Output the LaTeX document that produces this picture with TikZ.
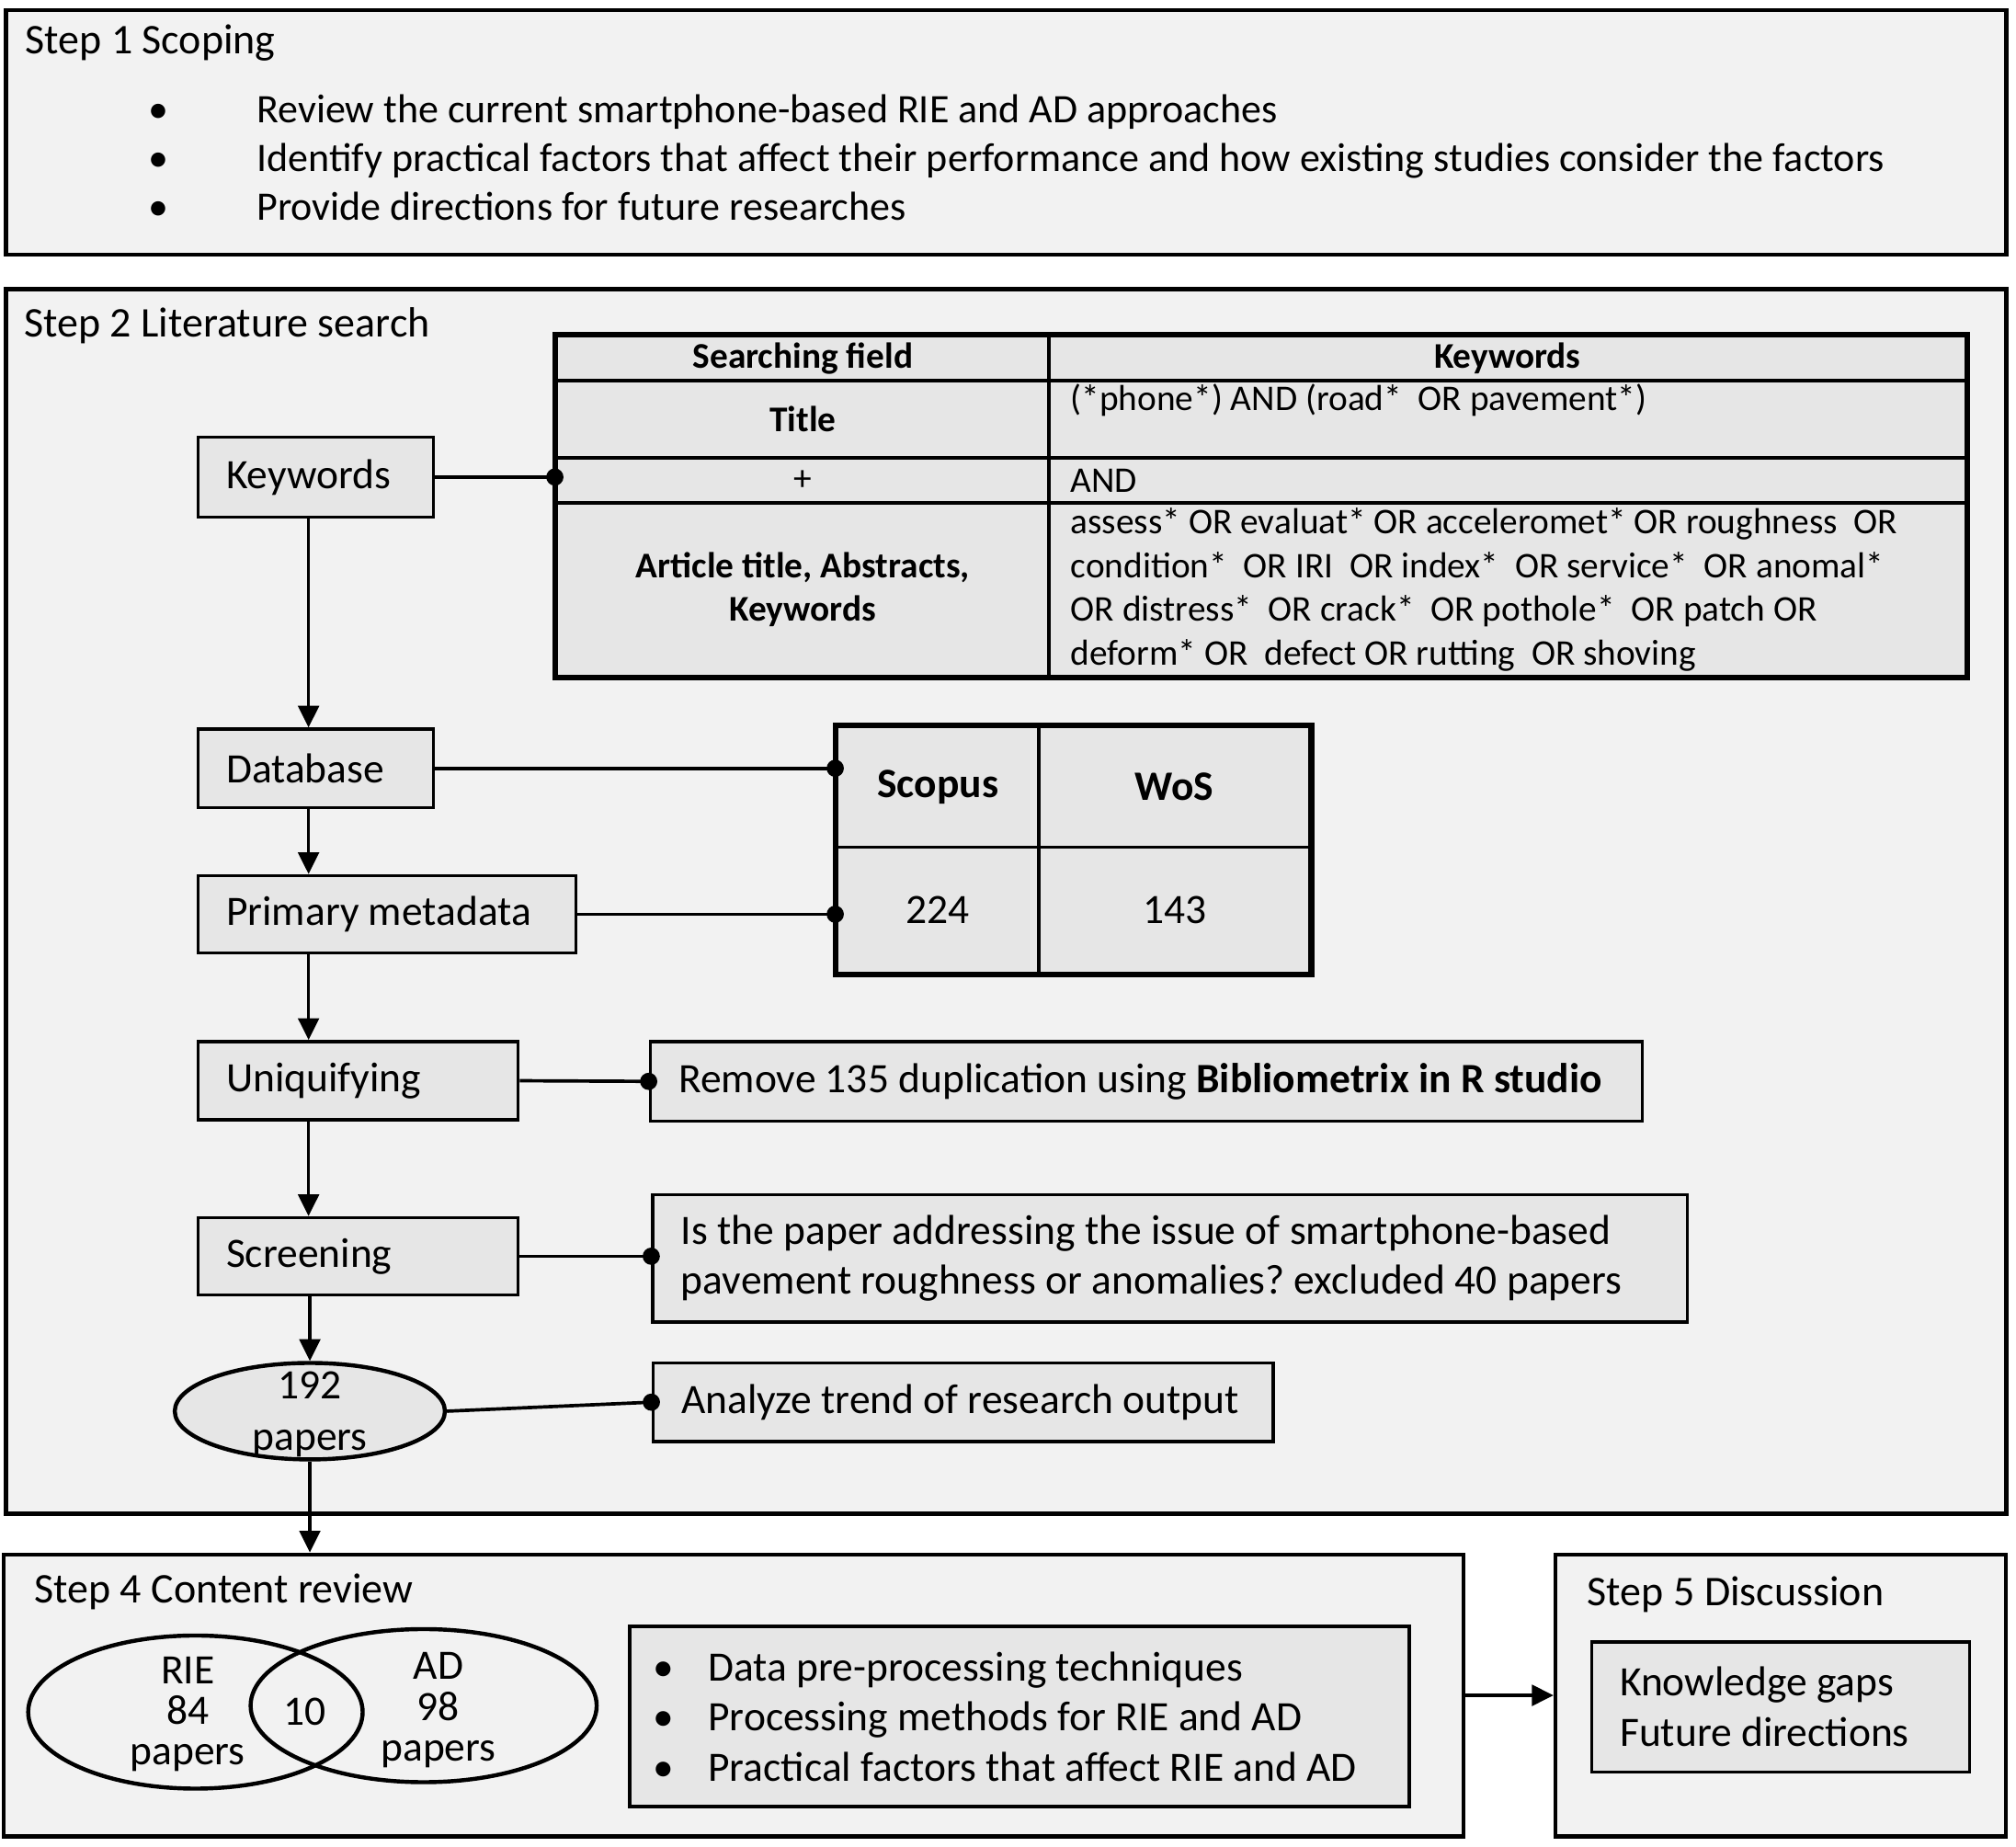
\documentclass[tikz,border=0pt]{standalone}
\usepackage{fontspec}
\setmainfont{Carlito}
\usepackage{tikz}
\usetikzlibrary{shapes.geometric, arrows, arrows.meta, positioning}
\definecolor{PanelGray}{RGB}{242, 242, 242}
\definecolor{BoxGray}{RGB}{230, 230, 230}
\newcommand{\blt}[1]{\makebox[#1][l]{\textbullet}}

\begin{document}
\frenchspacing
\begin{tikzpicture}[x=0.01cm, y=-0.01cm,
        font=\fontsize{9.25}{11.1}\selectfont,
        execute at begin node={\spaceskip=0pt\xspaceskip=0pt},
        panel/.style={rectangle, draw=black, fill=PanelGray, line width=0.9pt, inner sep=0pt},
        heading/.style={anchor=west, inner sep=0pt, font=\fontsize{9.35}{11.1}\selectfont},
        proc/.style={rectangle, draw=black, fill=BoxGray, line width=0.7pt, inner xsep=0.22cm, inner ysep=0pt, align=left},
        cell/.style={rectangle, draw=black, fill=BoxGray, line width=0.75pt, inner sep=0pt, align=center, font=\fontsize{8}{9.67}\selectfont},
        head/.style={font=\fontsize{8}{9.67}\selectfont\bfseries},
        kwcell/.style={cell, align=left, inner xsep=0.17cm, text width=6.79cm},
        bigcell/.style={cell, font=\fontsize{9.25}{11.1}\selectfont},
        oval/.style={ellipse, draw=black, line width=0.9pt, inner sep=0pt},
        flow/.style={line width=0.7pt, -{Triangle[length=4.8pt,width=4.6pt]}},
        link/.style={line width=0.75pt, shorten >=-1.9pt, -{Circle[length=3.8pt,width=3.8pt]}}
    ]
        \useasboundingbox (0,0) rectangle (1568,1436);
        \coordinate (spine) at (240,0);

        % Paneles de cada etapa
        \node[panel, minimum width=15.55cm, minimum height=1.90cm] (step1) at (782.5,103) {};
        \node[panel, minimum width=15.55cm, minimum height=9.52cm] (step2) at (782.5,701) {};
        \node[panel, minimum width=11.35cm, minimum height=2.19cm] (step4) at (570.5,1318.5) {};
        \node[panel, minimum width=3.50cm, minimum height=2.19cm] (step5) at (1385,1318.5) {};

        \node[heading] (t1) at (19,33) {Step 1 Scoping};
        \node[heading] (t2) at (18,253) {Step 2 Literature search};
        \node[heading] (t4) at (26,1238) {Step 4 Content review};
        \node[heading] (t5) at (1234,1240) {Step 5 Discussion};

        \node[heading, align=left, font=\fontsize{8.95}{10.7}\selectfont] (aims) at (115,122.5) {\blt{0.84cm}Review the current smartphone-based RIE and AD approaches\\
            \blt{0.84cm}Identify practical factors that affect their performance and how existing studies consider the factors\\
            \blt{0.84cm}Provide directions for future researches};

        % Tabla de busqueda
        \node[cell, head, minimum width=3.83cm, minimum height=0.35cm] (hfield) at (624.5,278.5) {Searching field};
        \node[cell, head, minimum width=7.13cm, minimum height=0.35cm] (hkey) at (1172.5,278.5) {Keywords};
        \node[cell, head, minimum width=3.83cm, minimum height=0.60cm] (tfield) at (624.5,326) {Title};
        \node[kwcell, minimum height=0.60cm] (tkey) at (1172.5,326) {(*phone*) AND (road*\ \ OR pavement*)\\\mbox{}};
        \node[cell, minimum width=3.83cm, minimum height=0.35cm] (pfield) at (624.5,373.5) {+};
        \node[kwcell, minimum height=0.35cm] (pkey) at (1172.5,373.5) {AND};
        \node[cell, head, minimum width=3.83cm, minimum height=1.35cm] (afield) at (624.5,458.5) {Article title, Abstracts,\\Keywords};
        \node[kwcell, minimum height=1.35cm] (akey) at (1172.5,458.5) {assess* OR evaluat* OR acceleromet* OR roughness\ \ OR\\
            condition*\ \ OR IRI\ \ OR index*\ \ OR service*\ \ OR anomal*\\
            OR distress*\ \ OR crack*\ \ OR pothole*\ \ OR patch OR\\
            deform* OR\ \ defect OR rutting\ \ OR shoving};
        \draw[line width=1pt] (hfield.north west) rectangle (akey.south east);

        % Tabla de bases de datos
        \node[bigcell, minimum width=1.57cm, minimum height=0.94cm] (scopus) at (729.5,612) {\textbf{Scopus}};
        \node[bigcell, minimum width=2.11cm, minimum height=0.94cm] (wos) at (913.5,612) {\textbf{WoS}};
        \node[bigcell, minimum width=1.57cm, minimum height=0.98cm] (n224) at (729.5,708) {224};
        \node[bigcell, minimum width=2.11cm, minimum height=0.98cm] (n143) at (913.5,708) {143};
        \draw[line width=1pt] (scopus.north west) rectangle (n143.south east);

        % Etapas del proceso
        \node[proc, text width=1.39cm, minimum height=0.62cm] (kw) at (245.5,371) {Keywords};
        \node[proc, text width=1.39cm, minimum height=0.61cm] (db) at (245.5,597.5) {Database};
        \node[proc, text width=2.50cm, minimum height=0.60cm] (pm) at (301,711) {\mbox{Primary metadata}};
        \node[proc, text width=2.05cm, minimum height=0.61cm] (uq) at (278.5,840.5) {Uniquifying};
        \node[proc, text width=2.05cm, minimum height=0.60cm] (sc) at (278.5,977) {Screening};
        \node[proc, text width=7.27cm, minimum height=0.62cm] (dup) at (891.5,841) {\mbox{Remove 135 duplication using \textbf{Bibliometrix in R studio}}};
        \node[proc, text width=7.60cm, minimum height=0.99cm] (scr) at (910,978.5) {Is the paper addressing the issue of smartphone-based\\pavement roughness or anomalies? excluded 40 papers};
        \node[oval, fill=BoxGray, minimum width=2.10cm, minimum height=0.75cm] (papers) at (241,1097.5) {};
        \node[align=center, font=\fontsize{9.25}{11.4}\selectfont] (paperstxt) at (241,1100) {192\\papers};
        \node[proc, text width=4.38cm, minimum height=0.61cm] (trend) at (749,1090.5) {\mbox{Analyze trend of research output}};

        % Revision de contenido
        \node[oval, minimum width=2.60cm, minimum height=1.19cm] (rie) at (152,1331.5) {};
        \node[oval, minimum width=2.69cm, minimum height=1.19cm] (ad) at (329.5,1326.5) {};
        \node[align=center, font=\fontsize{9.25}{9}\selectfont] (rietxt) at (146,1333) {RIE\\84\\papers};
        \node (overlap) at (237,1331) {10};
        \node[align=center, font=\fontsize{9.25}{9}\selectfont] (adtxt) at (341,1330) {AD\\98\\papers};
        \node[proc, inner xsep=0.18cm, text width=5.70cm, minimum height=1.40cm] (topics) at (793,1335) {\blt{0.43cm}Data pre-processing techniques\\
            \blt{0.43cm}Processing methods for RIE and AD\\
            \blt{0.43cm}Practical factors that affect RIE and AD};
        \node[proc, text width=2.50cm, minimum height=1.01cm] (gaps) at (1385,1327.5) {Knowledge gaps\\Future directions};

        % Flechas del flujo
        \draw[flow] (kw.south -| spine) -- (db.north -| spine);
        \draw[flow] (db.south -| spine) -- (pm.north -| spine);
        \draw[flow] (pm.south -| spine) -- (uq.north -| spine);
        \draw[flow] (uq.south -| spine) -- (sc.north -| spine);
        \draw[flow] (sc.south -| papers.north) -- (papers.north);
        \draw[flow] (papers.south) -- (papers.south |- step4.north);
        \draw[flow] (step4.east) -- (step5.west);

        % Conexiones con punto
        \draw[link] (kw.east) -- (kw.east -| pfield.west);
        \draw[link] (db.east) -- (db.east -| scopus.west);
        \draw[link] (pm.east) -- (pm.east -| n224.west);
        \draw[link] (uq.east) -- (dup.west);
        \draw[link] (sc.east) -- (sc.east -| scr.west);
        \draw[link] (papers.east) -- (trend.west);
    \end{tikzpicture}
\end{document}
